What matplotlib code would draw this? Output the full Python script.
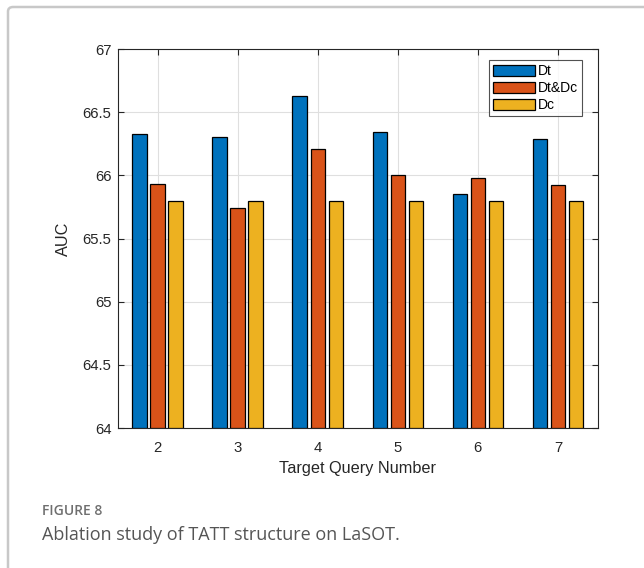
import matplotlib
matplotlib.use("Agg")
import matplotlib.pyplot as plt
import numpy as np
from matplotlib.patches import FancyBboxPatch

queries = [2, 3, 4, 5, 6, 7]
series_names = ["Dt", "Dt&Dc", "Dc"]
dt = [66.33, 66.30, 66.63, 66.34, 65.85, 66.29]
dt_dc = [65.93, 65.74, 66.21, 66.00, 65.98, 65.92]
dc = [65.80, 65.80, 65.80, 65.80, 65.80, 65.80]
colors = ["#0072BD", "#D95319", "#EDB120"]

plt.rcParams['font.family'] = ['Liberation Sans', 'DejaVu Sans']

fig = plt.figure(figsize=(6.44, 5.68), dpi=100)
fig.patch.set_facecolor("white")

ax = fig.add_axes([117.5/644, 1 - 428/568, (598 - 117.5)/644, (428 - 49)/568])

x = np.array(queries, dtype=float)
offsets = [-0.225, 0.0, 0.225]
width = 0.18
for vals, off, col, name in zip([dt, dt_dc, dc], offsets, colors, series_names):
    ax.bar(x + off, np.array(vals) - 64, width=width, bottom=64, color=col,
           edgecolor="black", linewidth=0.9, label=name, zorder=3)

ax.set_xlim(1.5, 7.5)
ax.set_ylim(64, 67)
ax.set_xticks(queries)
ax.set_xticklabels([str(q) for q in queries])
ax.set_yticks([64, 64.5, 65, 65.5, 66, 66.5, 67])
ax.set_yticklabels(["64", "64.5", "65", "65.5", "66", "66.5", "67"])
ax.grid(True, color="#dfdfdf", linewidth=0.8, zorder=0)
ax.set_axisbelow(True)
ax.tick_params(direction="in", top=True, right=True, length=4, width=0.8,
               colors="#262626", labelsize=10.7)
ax.tick_params(axis="y", pad=4.5)
ax.tick_params(axis="x", pad=9)
for s in ax.spines.values():
    s.set_color("#262626")
    s.set_linewidth(0.8)
ax.set_xlabel("Target Query Number", fontsize=11.7, color="#262626", labelpad=5)
ax.set_ylabel("AUC", fontsize=11.7, color="#262626", labelpad=8)

leg = ax.legend(loc="upper right", bbox_to_anchor=(1 - 16/480.5, 1 - 11/379),
                fontsize=10, frameon=True, fancybox=False, edgecolor="#262626",
                handlelength=3.0, handleheight=0.85, handletextpad=0.2,
                borderpad=0.3, labelspacing=0.22, borderaxespad=0)
leg.get_frame().set_linewidth(0.8)

# figure frame
frame = FancyBboxPatch((8/644, -0.05), 1.0, 1.05 - 7/568, boxstyle="round,pad=0,rounding_size=0.008",
                       transform=fig.transFigure, facecolor="none", edgecolor="#c8c8c8",
                       linewidth=1.8, clip_on=False)
fig.add_artist(frame)

fig.text(42/644, 1 - 515/568, "FIGURE 8", fontsize=10, color="#6f6f6f",
         family=["Open Sans", "DejaVu Sans"], fontweight="semibold", va="baseline", ha="left")
fig.text(42/644, 1 - 540/568, "Ablation study of TATT structure on LaSOT.", fontsize=13,
         color="#555555", family=["Open Sans", "DejaVu Sans"], va="baseline", ha="left")

fig.savefig("out.png", dpi=100)
